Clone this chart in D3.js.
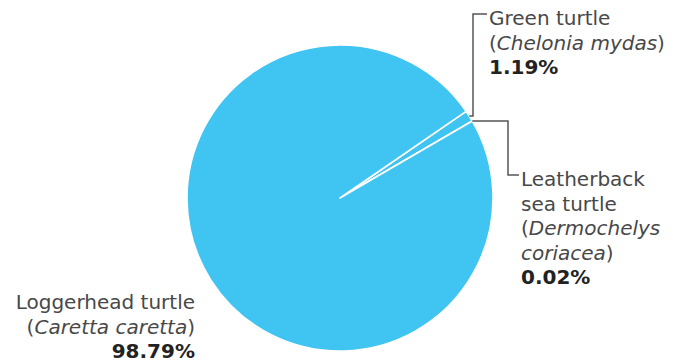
<!DOCTYPE html>
<html><head><meta charset="utf-8">
<script src="https://cdnjs.cloudflare.com/ajax/libs/d3/7.8.5/d3.min.js"></script>
<style>body{margin:0;background:#fff}svg{display:block}</style>
</head><body>
<script>
const species = ["Green turtle", "Leatherback sea turtle", "Loggerhead turtle"];
const scientific = ["Chelonia mydas", "Dermochelys coriacea", "Caretta caretta"];
const shares = [1.19, 0.02, 98.79];
const shareLabels = ["1.19%", "0.02%", "98.79%"];

const W = 673, H = 364;
const cx = 340, cy = 198, R = 153;
const fill = "#40c4f1", ink = "#484848", lineC = "#555";
const fs = 20, lh = 24.5;

const svg = d3.select("body").append("svg").attr("width", W).attr("height", H);
const start = 55.5 * Math.PI / 180;
const pie = d3.pie().sort(null).startAngle(start).endAngle(start + 2 * Math.PI);
const arcs = pie(shares);
const arc = d3.arc().innerRadius(0).outerRadius(R);
const g = svg.append("g").attr("transform", `translate(${cx},${cy})`);
g.selectAll("path").data(arcs).join("path")
  .attr("d", arc).attr("fill", fill).attr("stroke", "#fff").attr("stroke-width", 1.6)
  .attr("stroke-linejoin", "round");

function rim(a, r) { return [cx + r * Math.sin(a), cy - r * Math.cos(a)]; }
const aG = (arcs[0].startAngle + arcs[0].endAngle) / 2;
const aL = (arcs[1].startAngle + arcs[1].endAngle) / 2;
const pG = rim(aG, R), pL = rim(aL, R);

const font = "'DejaVu Sans', sans-serif";
const ln = svg.append("g").attr("fill", "none").attr("stroke", lineC).attr("stroke-width", 1.5);
ln.append("path").attr("d", `M${pG[0]},${pG[1]} H473 V14 H487`);
ln.append("path").attr("d", `M${pL[0]},${pL[1]} H508 V175 H519`);

function label(x, y, lines, anchor) {
  const t = svg.append("text").attr("x", x).attr("y", y).attr("text-anchor", anchor)
    .attr("font-family", font).attr("font-size", fs).attr("fill", ink);
  lines.forEach((L, i) => {
    const ts = t.append("tspan").attr("x", x).attr("dy", i === 0 ? 0 : lh);
    L.forEach(part => {
      ts.append("tspan").text(part.t)
        .attr("font-style", part.i ? "italic" : null)
        .attr("font-weight", part.b ? "bold" : null)
        .attr("fill", part.b ? "#222" : null);
    });
  });
}
label(489, 25, [
  [{t: species[0]}],
  [{t: "("}, {t: scientific[0], i: true}, {t: ")"}],
  [{t: shareLabels[0], b: true}]
], "start");
const sciL = scientific[1].split(" ");
label(521, 186, [
  [{t: "Leatherback"}],
  [{t: "sea turtle"}],
  [{t: "("}, {t: sciL[0], i: true}],
  [{t: sciL[1], i: true}, {t: ")"}],
  [{t: shareLabels[1], b: true}]
], "start");
label(195, 309, [
  [{t: species[2]}],
  [{t: "("}, {t: scientific[2], i: true}, {t: ")"}],
  [{t: shareLabels[2], b: true}]
], "end");
</script>
</body></html>
